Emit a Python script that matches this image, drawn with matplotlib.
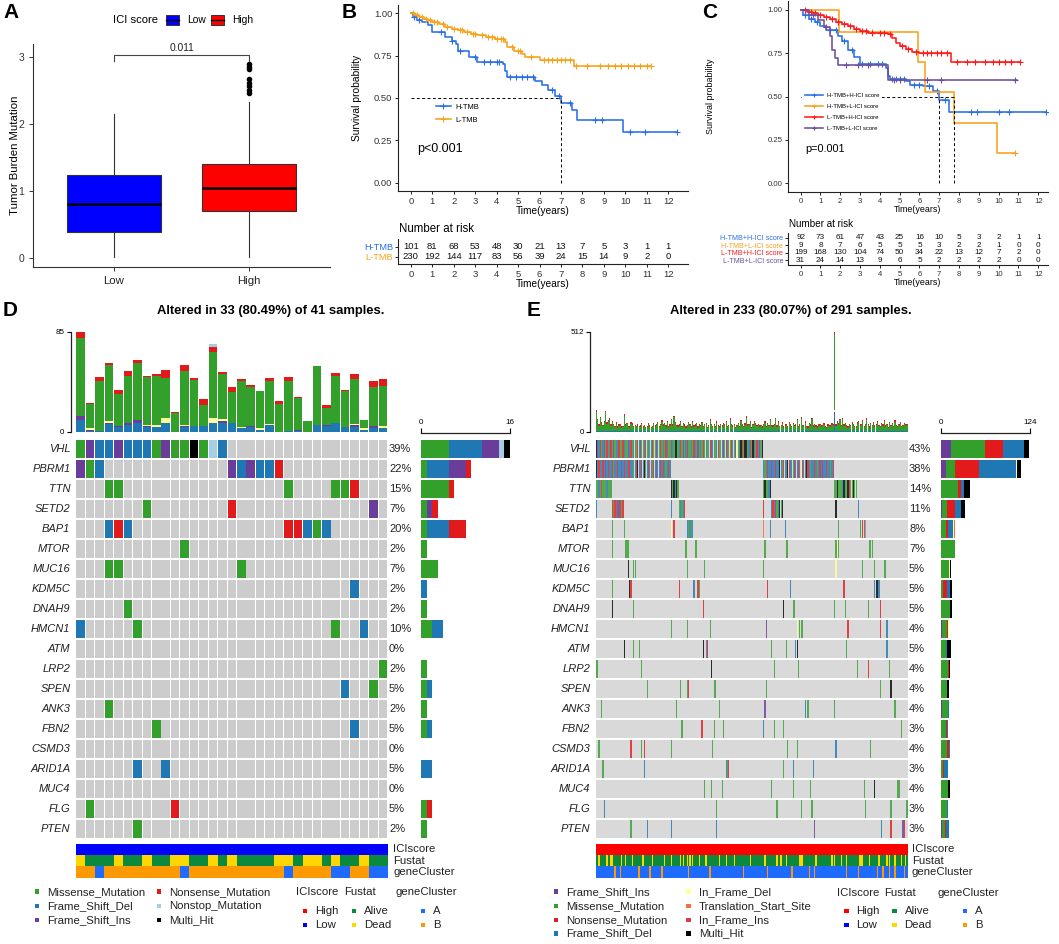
import numpy as np
import matplotlib
matplotlib.use("Agg")
import matplotlib.pyplot as plt
from matplotlib.lines import Line2D
from matplotlib.patches import Rectangle

plt.rcParams['font.family'] = ['Liberation Sans', 'DejaVu Sans']

# ====================== DATA ======================
# ---- Panel A (box plot) ----
A_GROUPS = ["Low", "High"]
A_COLORS = ["#0000FF", "#FF0000"]
A_MED = [0.81, 1.05]
A_Q1 = [0.39, 0.71]
A_Q3 = [1.25, 1.41]
A_WLO = [0.02, 0.02]
A_WHI = [2.15, 2.33]
A_OUT_HIGH = [2.47, 2.52, 2.57, 2.62, 2.67, 2.82, 2.86, 2.90]
A_PVAL = "0.011"

# ---- Panel B (KM) ----
KM_TICKS = list(range(13))
B_NAMES = ["H-TMB", "L-TMB"]
B_COLS = ["#2B6FE6", "#F7A21B"]
B_T_H = [0, 0.1, 0.3, 0.5, 0.8, 1.0, 1.6, 1.9, 2.1, 2.2, 2.7, 3.1, 4.3, 4.4, 4.5, 5.8, 6.1, 6.4, 6.7, 7.0, 7.5, 7.75, 9.9, 12.4]
B_S_H = [1.0, 0.98, 0.96, 0.95, 0.93, 0.89, 0.86, 0.84, 0.82, 0.78, 0.745, 0.715, 0.70, 0.66, 0.625, 0.60, 0.575, 0.545, 0.51, 0.47, 0.43, 0.37, 0.30, 0.30]
B_C_H = [0.15, 0.4, 1.4, 1.9, 2.3, 3.0, 3.4, 3.7, 4.0, 4.1, 4.6, 4.9, 5.2, 5.4, 5.7, 6.6, 6.9, 7.4, 8.6, 8.9, 10.2, 10.9, 12.4]
B_T_L = [0, 0.2, 0.4, 0.6, 0.8, 1.0, 1.3, 1.6, 1.9, 2.2, 2.5, 2.8, 3.1, 3.5, 3.9, 4.4, 4.5, 4.8, 5.2, 5.3, 6.0, 7.6, 11.2]
B_S_L = [1.0, 0.99, 0.98, 0.97, 0.96, 0.95, 0.94, 0.92, 0.91, 0.90, 0.89, 0.88, 0.87, 0.86, 0.85, 0.83, 0.80, 0.78, 0.76, 0.745, 0.725, 0.69, 0.69]
B_C_L = [0.1, 0.3, 0.5, 0.7, 0.9, 1.1, 1.2, 1.5, 1.7, 2.0, 2.3, 2.4, 2.6, 2.9, 3.0, 3.3, 3.6, 3.8, 4.0, 4.2, 4.3,
         4.7, 5.0, 5.1, 5.6, 6.2, 6.4, 6.6, 6.8, 7.0, 7.2, 7.4, 7.7, 8.2, 8.8, 9.2, 9.5, 9.8, 10.1, 10.4, 10.7, 11.0, 11.2]
B_MEDIANS = [7.0]
B_RISK_H = [101, 81, 68, 53, 48, 30, 21, 13, 7, 5, 3, 1, 1]
B_RISK_L = [230, 192, 144, 117, 83, 56, 39, 24, 15, 14, 9, 2, 0]
B_PVAL = "p<0.001"

# ---- Panel C (KM, 4 groups) ----
C_NAMES = ["H-TMB+H-ICI score", "H-TMB+L-ICI score", "L-TMB+H-ICI score", "L-TMB+L-ICI score"]
C_COLS = ["#2B6FE6", "#F7A21B", "#FF1A1A", "#6E4E9A"]
C_T_HH = [0, 0.1, 0.4, 0.7, 1.0, 1.3, 1.9, 2.1, 2.4, 2.7, 3.0, 4.3, 4.4, 4.5, 5.3, 5.5, 6.2, 6.7, 7.0, 7.5, 12.4]
C_S_HH = [1.0, 0.97, 0.95, 0.93, 0.91, 0.885, 0.85, 0.82, 0.77, 0.73, 0.69, 0.665, 0.62, 0.60, 0.59, 0.57, 0.56, 0.535, 0.48, 0.41, 0.41]
C_C_HH = [0.2, 0.5, 0.8, 1.5, 1.8, 2.2, 2.6, 3.1, 3.5, 3.9, 4.1, 4.6, 4.8, 5.0, 5.2, 5.7, 6.0, 6.5, 6.9, 7.3, 8.6, 8.9, 10.0, 10.5, 12.4]
C_T_HL = [0, 1.95, 5.9, 6.3, 7.75, 9.9, 10.8]
C_S_HL = [1.0, 0.875, 0.70, 0.525, 0.35, 0.175, 0.175]
C_C_HL = [3.6, 10.8]
C_T_LH = [0, 0.3, 0.6, 0.9, 1.2, 1.5, 1.8, 2.1, 2.4, 2.7, 3.0, 3.4, 3.8, 4.4, 4.6, 4.8, 5.0, 5.3, 5.6, 6.0, 7.6, 11.1]
C_S_LH = [1.0, 0.99, 0.98, 0.97, 0.96, 0.95, 0.93, 0.92, 0.91, 0.89, 0.88, 0.87, 0.865, 0.86, 0.84, 0.81, 0.79, 0.775, 0.76, 0.75, 0.70, 0.70]
C_C_LH = [0.2, 0.5, 0.7, 1.0, 1.3, 1.6, 1.9, 2.2, 2.5, 2.8, 3.1, 3.3, 3.6, 4.0, 4.2, 4.5, 5.1, 5.4, 5.8, 6.2, 6.4, 6.6,
          6.9, 7.1, 7.4, 7.9, 8.4, 8.8, 9.3, 9.7, 10.0, 10.3, 10.6, 11.1]
C_T_LL = [0, 0.4, 0.9, 1.2, 1.5, 1.6, 1.75, 1.9, 4.4, 10.9]
C_S_LL = [1.0, 0.97, 0.94, 0.90, 0.85, 0.77, 0.725, 0.68, 0.595, 0.595]
C_C_LL = [0.6, 1.3, 2.3, 2.9, 3.4, 4.7, 5.0, 6.4, 7.1, 10.8]
C_MEDIANS = [7.0, 7.75]
C_RISK_HH = [92, 73, 61, 47, 43, 25, 16, 10, 5, 3, 2, 1, 1]
C_RISK_HL = [9, 8, 7, 6, 5, 5, 5, 3, 2, 2, 1, 0, 0]
C_RISK_LH = [199, 168, 130, 104, 74, 50, 34, 22, 13, 12, 7, 2, 0]
C_RISK_LL = [31, 24, 14, 13, 9, 6, 5, 2, 2, 2, 2, 0, 0]
C_PVAL = "p=0.001"

# ---- Oncoplots (D, E) ----
GENES = ["VHL", "PBRM1", "TTN", "SETD2", "BAP1", "MTOR", "MUC16", "KDM5C", "DNAH9", "HMCN1",
         "ATM", "LRP2", "SPEN", "ANK3", "FBN2", "CSMD3", "ARID1A", "MUC4", "FLG", "PTEN"]
TYPE_COL = {'M': '#33A02C', 'D': '#1F78B4', 'I': '#6A3D9A', 'N': '#E31A1C', 'O': '#A6CEE3',
            'X': '#000000', 'F': '#FFFF99', 'T': '#F46D43', 'J': '#D53E4F'}
TYPE_NAME = {'M': 'Missense_Mutation', 'D': 'Frame_Shift_Del', 'I': 'Frame_Shift_Ins',
             'N': 'Nonsense_Mutation', 'O': 'Nonstop_Mutation', 'X': 'Multi_Hit',
             'F': 'In_Frame_Del', 'T': 'Translation_Start_Site', 'J': 'In_Frame_Ins'}

D_TITLE = "Altered in 33 (80.49%) of 41 samples."
D_NCOL = 33
D_PCT = [39, 22, 15, 7, 20, 2, 7, 2, 2, 10, 0, 2, 5, 2, 5, 0, 5, 0, 5, 2]
D_MUT = ["0M 1I 2D 3D 4I 5D 6D 7D 8M 9I 10M 11M 12X 13M 14O 15D",
         "0I 1M 2D 16I 17D 18I 19D 20D 21N",
         "3M 4M 22M 27M 28M 29N",
         "7M 16N 31I",
         "3D 4N 5D 22N 23N 24D 25M 26D",
         "11M",
         "3M 4M 17M",
         "29D",
         "5M",
         "0D 6M 27M 30D",
         "",
         "32M",
         "28D 31M",
         "3M",
         "8M 29D",
         "",
         "6D 9D",
         "",
         "1M 10N",
         "6M"]
D_TOP_DEL = [10, 1, 1, 7, 4, 6, 8, 4, 4, 8, 0, 4, 5, 5, 8, 8, 8, 3, 4, 2, 6, 0, 1, 1, 0, 6, 5, 8, 4, 4, 2, 3, 3]
D_TOP_INS = [4, 1, 0, 1, 1, 2, 2, 1, 0, 0, 0, 1, 0, 0, 0, 1, 0, 0, 1, 0, 0, 0, 0, 1, 0, 0, 1, 0, 0, 2, 0, 2, 0]
D_TOP_IFD = [0, 1, 0, 1, 0, 0, 0, 1, 2, 4, 0, 1, 0, 0, 4, 2, 0, 1, 0, 1, 1, 0, 0, 0, 0, 0, 0, 0, 0, 1, 1, 0, 2]
D_TOP_MIS = [66, 21, 42, 48, 27, 40, 49, 41, 42, 34, 16, 46, 39, 18, 56, 38, 26, 39, 33, 32, 36, 24, 42, 27, 9, 50, 14, 40, 31, 38, 7, 33, 34]
D_TOP_NON = [5, 1, 4, 2, 4, 4, 2, 1, 1, 7, 1, 5, 2, 5, 4, 2, 4, 2, 2, 0, 3, 2, 4, 1, 0, 0, 3, 2, 1, 4, 0, 5, 6]
D_TOP_NST = [0, 0, 0, 0, 0, 0, 0, 0, 0, 0, 0, 0, 0, 0, 3, 0, 0, 0, 0, 0, 0, 0, 0, 0, 0, 0, 0, 0, 0, 0, 0, 0, 0]
D_TOP_MAX = 85
D_RIGHT_MAX = 16
D_ICI = "LLLLLLLLLLLLLLLLLLLLLLLLLLLLLLLLL"
D_FUSTAT = "DAAADAADAADDAADADAAAADDADDADAADAA"
D_CLUSTER = "BBABBBBBBBBABBBBBBBBBBABBBBAABBAA"

E_TITLE = "Altered in 233 (80.07%) of 291 samples."
E_NCOL = 233
E_PCT = [43, 38, 14, 11, 8, 7, 5, 5, 5, 4, 5, 4, 4, 4, 3, 4, 3, 4, 3, 3]
E_MUT = ["0:XIDNMDIMNMDNMIMDDNMMNDMMIDNMDMMNDIMMDNMDMDNMMIDMNMDMNDMMIDMX"
         "XMDNMIMDNMMDMNDMIMDMNMDMMNIDMMDNMMDIMNDMMNDMIFMDXNMXXMDNMXDMNDIMX",
         "0:XDNDDNDIDNDDNMDDNDDIDNDDNNDDMDNXDDNDXMDNDDMNDIDDNDNDMDND "
         "125:DMDNDDIDDNDDXDMNDDXNDDMNDDNDFNDDXNDMDDNDMDNDIDDNDDMDN",
         "0:MMDMNMMMDMMM 56:XMXDXM 125:MXMMDX 178:MMXMMMDXMMXNMMXMM",
         "0:D 12:NMNDNINMN 56:D 62:MDMDN 125:N 131:DNDNMDXMX 179:X 196:D",
         "12:M 21:M 56:F 58:N 68:DMDMD 125:T 130:D 141:D 181:M 197:M 199:NDT",
         "12:M 22:MMM 67:M 74:MM 126:M 142:MM 179:MFM 204:MMM",
         "24:X 28:MM 68:M 81:M 125:M 179:F 199:M 208:M 215:MM",
         "12:M 25:XN 62:N 73:D 76:NM 128:N 145:D 185:N 208:DXXD",
         "12:X 28:M 80:N 140:X 147:MM 178:M 186:M 203:M 212:N",
         "56:M 68:M 85:M 127:I 150:F 152:MMM 188:N 212:N 217:D",
         "21:X 28:M 32:M 80:X 82:DN 131:M 142:M 149:DX 187:M 217:D",
         "0:MM 34:M 86:X 133:M 151:M 195:M 203:N 219:M",
         "38:M 63:M 68:MN 88:MM 127:M 212:M 220:X",
         "4:M 60:M 92:M 126:I 156:D 158:M 178:M 223:M",
         "64:M 79:N 88:M 95:M 125:D 133:M 140:M 228:M",
         "2:M 26:N 34:M 36:N 56:M 87:M 143:M 150:M 179:D 205:M",
         "5:M 36:D 97:DMN 140:M 147:D 162:D",
         "81:M 86:M 94:M 131:M 147:M 160:M 200:M 208:X 225:MM",
         "6:D 90:M 135:M 153:M 161:M 201:M 220:M 232:M",
         "26:M 38:D 56:D 90:D 163:I 213:D 220:N 229:IN"]
E_RIGHT = ["I14 M47 N25 D29 F1 X7", "I7 M13 N33 D52 F1 X5", "M24 N4 D4 X8", "I2 M6 N11 D9 X5",
           "M7 N3 D7 F1 T2", "M19 F1", "M11 F1 X2", "M3 N5 D4 X4", "M12 N1 X2", "I1 M7 N2 F1",
           "M7 D2 X5", "M10 N1 X2", "M8 N1 X2", "I1 M9 D1", "M7 N1 D2", "M9 N2 D1",
           "M3 N1 D6", "M10 X2", "M8 D2", "I2 M3 N2 D4"]
E_RIGHT_MAX = 124
E_TOP_MAX = 512
E_TOP_MIS = [100, 55, 30, 65, 40, 25, 45, 100, 35, 50, 60, 28, 45, 30, 22, 38, 20, 25, 30, 18,
             22, 80, 28, 35, 20, 18, 40, 30, 22, 25, 20, 30, 18, 24, 35, 20, 28, 16, 22, 30,
             25, 18, 20, 35, 22, 28, 40, 20, 30, 50, 25, 35, 22, 45, 18, 28, 55, 30, 70, 40,
             25, 20, 30, 45, 22, 35, 28, 18, 25, 40, 30, 20, 45, 22, 28, 35, 18, 30, 25, 40,
             22, 30, 35, 18, 25, 55, 28, 20, 30, 22, 40, 25, 18, 30, 22, 35, 28, 45, 20, 25,
             60, 30, 22, 28, 18, 25, 35, 20, 50, 28, 22, 30, 70, 25, 30, 40, 18, 28, 45, 30,
             25, 35, 20, 28, 18, 30, 45, 22, 35, 25, 55, 28, 20, 30, 60, 25, 40, 22, 28, 35,
             20, 25, 30, 18, 45, 28, 22, 35, 25, 30, 55, 20, 28, 65, 25, 30, 40, 22, 18, 35,
             28, 60, 25, 30, 22, 18, 28, 35, 20, 25, 30, 22, 18, 28, 25, 20, 35, 30, 384, 28,
             45, 30, 55, 25, 60, 28, 35, 22, 18, 30, 25, 40, 28, 20, 22, 35, 50, 25, 30, 45,
             22, 30, 60, 28, 18, 35, 25, 40, 22, 30, 45, 25, 20, 35, 28, 50, 22, 30, 18, 40,
             25, 35, 22, 45, 28, 20, 30, 40, 18, 25, 35, 28, 30]
E_TOP_NON = ("7586978596 8697586957 6879586978 5968795869 7586978569 8579687958 6978596879 5869758697 "
             "8596879586 9785968795 8697586978 5968795869 7586978596 8795869758 6978596879 5869758697 "
             "8596879586 9758697859 6879586978 5968795869 7586978596 8795869758 5869758697 697")
E_TOP_DEL = ("4536354465 3546453645 5364453645 5364535446 3545364453 6454536354 4635445364 5354463545 "
             "3644536454 5364453645 4536354465 3546453645 5364453645 5364535446 3545364453 6454536354 "
             "4635445364 5354463545 3644536454 5364453645 4536354465 3546453645 4536354465 536")
E_SPIKE_COL = 178
E_SPIKE = {'D': 85, 'I': 17, 'F': 9, 'M': 384, 'N': 17}
E_ICI_RUNS = [("H", 233)]
E_DEAD_COLS = [2, 8, 11, 12, 19, 22, 27, 35, 42, 51, 56, 63, 65, 68, 70, 72, 77, 82, 92, 97, 103, 115,
               126, 135, 138, 142, 152, 153, 154, 164, 176, 178, 183, 187, 197, 198, 199, 204, 211,
               217, 219, 223, 228, 231]
E_CLUSTER_B_COLS = [14, 18, 32, 40, 49, 69, 85, 110, 128, 146, 159, 163, 187, 196, 210, 214, 219, 223, 230]

ANN_COL = {'ICI': {'H': '#FF0000', 'L': '#0000FF'},
           'Fustat': {'A': '#0B8A3E', 'D': '#FFD700'},
           'Cluster': {'A': '#1F6BFF', 'B': '#FF9900'}}

# ====================== FIGURE ======================
W, H = 1059, 944
fig = plt.figure(figsize=(W / 100, H / 100), dpi=100)


def pax(x0, y0, x1, y1):
    ax = fig.add_axes([x0 / W, 1 - y1 / H, (x1 - x0) / W, (y1 - y0) / H])
    ax.patch.set_alpha(0)
    return ax


def style_spines(ax, keep=('left', 'bottom'), color='black', lw=0.8):
    for s in ax.spines:
        if s in keep:
            ax.spines[s].set_color(color)
            ax.spines[s].set_linewidth(lw)
        else:
            ax.spines[s].set_visible(False)


# ---------------- Panel A ----------------
axA = pax(33, 44, 330, 267)
stats = []
for i in range(2):
    stats.append(dict(med=A_MED[i], q1=A_Q1[i], q3=A_Q3[i], whislo=A_WLO[i], whishi=A_WHI[i],
                      fliers=A_OUT_HIGH if i == 1 else []))
bp = axA.bxp(stats, positions=[1, 2], widths=0.7, patch_artist=True, showcaps=False,
             boxprops=dict(edgecolor='#333333', linewidth=0.8),
             medianprops=dict(color='black', linewidth=1.8),
             whiskerprops=dict(color='#333333', linewidth=0.8),
             flierprops=dict(marker='o', markerfacecolor='black', markeredgecolor='black', markersize=3.0))
for p, c in zip(bp['boxes'], A_COLORS):
    p.set_facecolor(c)
axA.set_xlim(0.4, 2.6)
axA.set_ylim(-0.13, 3.2)
axA.set_yticks([0, 1, 2, 3])
axA.set_xticks([1, 2])
axA.set_xticklabels(A_GROUPS)
style_spines(axA, color='#333333')
axA.tick_params(axis='y', labelsize=7.5, labelcolor='#333333', length=3, width=0.7, color='#333333')
axA.tick_params(axis='x', labelsize=8.2, labelcolor='#222222', length=3, width=0.7, color='#333333')
axA.set_ylabel("Tumor Burden Mutation", fontsize=8.2)
axA.yaxis.set_label_coords(-0.044, 0.5)
axA.plot([1, 1, 2, 2], [2.94, 3.04, 3.04, 2.94], color='#444444', lw=0.8, clip_on=False)
axA.text(1.5, 3.07, A_PVAL, ha='center', va='bottom', fontsize=7.4, color='#222222')


# ---------------- KM helper ----------------
def surv_at(t_arr, s_arr, t):
    idx = np.searchsorted(np.asarray(t_arr), t, side='right') - 1
    return np.asarray(s_arr)[idx]


def km_axes(ax, curves, cols, medians, xlim, tick_fs, lab_fs):
    for (t, s, c), col in zip(curves, cols):
        ax.step(t, s, where='post', color=col, lw=1.15)
        ax.plot(c, surv_at(t, s, c), ls='none', marker='+', ms=4, mew=0.8, color=col)
    m_max = max(medians)
    ax.plot([0, m_max], [0.5, 0.5], ls=(0, (3, 2.5)), color='black', lw=0.7)
    for m in medians:
        ax.plot([m, m], [0, 0.5], ls=(0, (3, 2.5)), color='black', lw=0.7)
    ax.set_xlim(*xlim)
    ax.set_ylim(-0.05, 1.05)
    ax.set_xticks(KM_TICKS)
    ax.set_yticks([0, 0.25, 0.5, 0.75, 1.0])
    ax.set_yticklabels(["0.00", "0.25", "0.50", "0.75", "1.00"])
    style_spines(ax, color='#222222')
    ax.tick_params(labelsize=tick_fs, length=2.5, width=0.6, labelcolor='#333333', pad=1.5)
    ax.set_xlabel("Time(years)", fontsize=lab_fs, labelpad=0)


def risk_axes(ax, names, cols, rows, xlim, ylim, name_fs, num_fs, tick_fs, lab_fs):
    for r, vals in enumerate(rows):
        for t, v in zip(KM_TICKS, vals):
            ax.text(t, r, str(v), ha='center', va='center', fontsize=num_fs, color='#111111')
    ax.set_xlim(*xlim)
    ax.set_ylim(*ylim)
    ax.set_xticks(KM_TICKS)
    ax.set_yticks(range(len(names)))
    ax.set_yticklabels(names)
    for lbl, c in zip(ax.get_yticklabels(), cols):
        lbl.set_color(c)
    ax.tick_params(axis='y', labelsize=name_fs, length=2.5, width=0.6, pad=1)
    ax.tick_params(axis='x', labelsize=tick_fs, length=2.5, width=0.6, labelcolor='#333333', pad=1.5)
    style_spines(ax, color='#222222')
    ax.set_xlabel("Time(years)", fontsize=lab_fs, labelpad=0)


# ---------------- Panel B ----------------
axB = pax(398, 5, 688, 191)
km_axes(axB, [(B_T_H, B_S_H, B_C_H), (B_T_L, B_S_L, B_C_L)], B_COLS, B_MEDIANS, (-0.6, 12.92), 6.8, 7.3)
axB.set_ylabel("Survival probability", fontsize=7.4)
axB.yaxis.set_label_coords(-0.124, 0.5)
axB.text(0.28, 0.2, B_PVAL, fontsize=9, va='center')
hB = [Line2D([], [], color=c, lw=1.15, marker='+', ms=4, mew=0.8) for c in B_COLS]
legB = axB.legend(hB, B_NAMES, fontsize=5.4, loc='upper left', bbox_to_anchor=(0.118, 0.49),
                  frameon=True, facecolor='white', edgecolor='none', framealpha=1,
                  handlelength=2.0, handletextpad=0.6, labelspacing=0.75, borderpad=0.5, borderaxespad=0)

axBr = pax(398, 239, 688, 264)
risk_axes(axBr, B_NAMES, B_COLS, [B_RISK_H, B_RISK_L], (-0.6, 12.92), (1.73, -0.77), 6.7, 6.8, 6.8, 7.3)

# ---------------- Panel C ----------------
axC = pax(788, 1.3, 1048, 192)
km_axes(axC, [(C_T_HH, C_S_HH, C_C_HH), (C_T_HL, C_S_HL, C_C_HL), (C_T_LH, C_S_LH, C_C_LH),
              (C_T_LL, C_S_LL, C_C_LL)], C_COLS, C_MEDIANS, (-0.64, 12.49), 5.6, 6.4)
axC.set_ylabel("Survival probability", fontsize=6.4)
axC.yaxis.set_label_coords(-0.28, 0.5)
axC.text(0.22, 0.196, C_PVAL, fontsize=7.8, va='center')
hC = [Line2D([], [], color=c, lw=1.15, marker='+', ms=3.5, mew=0.8) for c in C_COLS]
legC = axC.legend(hC, C_NAMES, fontsize=4.3, loc='upper left', bbox_to_anchor=(0.055, 0.535),
                  frameon=True, facecolor='white', edgecolor='none', framealpha=1,
                  handlelength=3.0, handletextpad=0.7, labelspacing=1.0, borderpad=0.45, borderaxespad=0)

axCr = pax(788, 233, 1048, 265)
risk_axes(axCr, C_NAMES, C_COLS, [C_RISK_HH, C_RISK_HL, C_RISK_LH, C_RISK_LL], (-0.64, 12.49),
          (3.68, -0.68), 5.1, 5.9, 5.6, 6.4)


# ---------------- Oncoplot helper ----------------
ROW_TOP, ROW_H = 439, 20.0


def oncoplot(x0, x1, ncol, cells, gray, cellw, cell_alpha, top_layers, top_max, top_axis_pt,
             right_x0, right_x1, right_counts, right_order, right_max, ann_tracks):
    y_bot = ROW_TOP + ROW_H * len(GENES)
    # matrix
    axm = pax(x0, ROW_TOP, x1, y_bot)
    for r in range(len(GENES)):
        if cellw < 1:
            axm.bar(range(ncol), 0.92, bottom=r - 0.46, width=cellw, color=gray, lw=0)
        else:
            axm.barh(r, ncol, left=-0.5, height=0.92, color=gray, lw=0)
    for r, lst in enumerate(cells):
        if lst:
            xs = [c for c, t in lst]
            cs = [TYPE_COL[t] for c, t in lst]
            axm.bar(xs, 0.92, bottom=r - 0.46, width=min(cellw, 0.9), color=cs, lw=0, alpha=cell_alpha)
    axm.set_xlim(-0.5, ncol - 0.5)
    axm.set_ylim(len(GENES) - 0.5, -0.5)
    axm.axis('off')
    # top bars
    axt = pax(x0, 332, x1, 432)
    bottom = np.zeros(ncol)
    for t, vals in top_layers:
        vals = np.asarray(vals, dtype=float)
        axt.bar(range(ncol), vals, bottom=bottom, width=0.9, color=TYPE_COL[t], lw=0)
        bottom += vals
    axt.set_xlim(-0.5, ncol - 0.5)
    axt.set_ylim(0, top_max)
    style_spines(axt, keep=('left',), color='#222222', lw=0.9)
    axt.spines['left'].set_position(('outward', top_axis_pt))
    axt.set_yticks([0, top_max])
    axt.set_xticks([])
    axt.tick_params(axis='y', labelsize=5.8, length=3, width=0.8, pad=1.5)
    # right bars
    axr = pax(right_x0, ROW_TOP, right_x1, y_bot)
    for r, counts in enumerate(right_counts):
        left = 0
        for t in right_order:
            n = counts.get(t, 0)
            if n:
                axr.barh(r, n, left=left, height=0.86, color=TYPE_COL[t], lw=0)
                left += n
    axr.set_xlim(0, right_max)
    axr.set_ylim(len(GENES) - 0.5, -0.5)
    style_spines(axr, keep=('top',), color='#222222', lw=0.9)
    axr.spines['top'].set_position(('outward', 4.6))
    axr.xaxis.set_ticks_position('top')
    axr.set_xticks([0, right_max])
    axr.set_yticks([])
    axr.tick_params(axis='x', labelsize=5.8, length=3.5, width=0.8, pad=1.5)
    # annotations
    axa = pax(x0, 844, x1, 877.5)
    for k, cols in enumerate(ann_tracks):
        axa.bar(range(ncol), 1.0, bottom=k - 0.5, width=1.0, color=cols, lw=0, antialiased=False)
    axa.set_xlim(-0.5, ncol - 0.5)
    axa.set_ylim(2.5, -0.5)
    axa.axis('off')


def parse_d(s):
    out = []
    for tok in s.split():
        out.append((int(tok[:-1]), tok[-1]))
    return out


def parse_e(s):
    out = []
    for tok in s.split():
        st, codes = tok.split(':')
        for k, t in enumerate(codes):
            out.append((int(st) + k, t))
    return out


def digits(s):
    return [int(c) for c in s.replace(' ', '')]


# ---------------- Panel D ----------------
d_cells = [parse_d(s) for s in D_MUT]
d_right = []
for lst in d_cells:
    cnt = {}
    for c, t in lst:
        cnt[t] = cnt.get(t, 0) + 1
    d_right.append(cnt)
d_ann = [[ANN_COL['ICI'][v] for v in D_ICI],
         [ANN_COL['Fustat'][v] for v in D_FUSTAT],
         [ANN_COL['Cluster'][v] for v in D_CLUSTER]]
oncoplot(76, 387.7, D_NCOL, d_cells, '#CCCCCC', 0.9, 1.0,
         [('D', D_TOP_DEL), ('I', D_TOP_INS), ('F', D_TOP_IFD), ('M', D_TOP_MIS), ('N', D_TOP_NON), ('O', D_TOP_NST)],
         D_TOP_MAX, 3.8, 421, 510, d_right, ['M', 'D', 'I', 'N', 'O', 'X'], D_RIGHT_MAX, d_ann)

# ---------------- Panel E ----------------
e_cells = [parse_e(s) for s in E_MUT]
e_right = []
for s in E_RIGHT:
    cnt = {}
    for tok in s.split():
        cnt[tok[0]] = int(tok[1:])
    e_right.append(cnt)
e_del = np.array(digits(E_TOP_DEL), dtype=float)[:E_NCOL]
e_non = np.array(digits(E_TOP_NON), dtype=float)[:E_NCOL]
e_mis = np.array(E_TOP_MIS, dtype=float)
e_ins = np.zeros(E_NCOL)
e_ifd = np.zeros(E_NCOL)
e_del[E_SPIKE_COL] = E_SPIKE['D']
e_ins[E_SPIKE_COL] = E_SPIKE['I']
e_ifd[E_SPIKE_COL] = E_SPIKE['F']
e_mis[E_SPIKE_COL] = E_SPIKE['M']
e_non[E_SPIKE_COL] = E_SPIKE['N']
e_ici = []
for v, n in E_ICI_RUNS:
    e_ici += [ANN_COL['ICI'][v]] * n
e_fus = [ANN_COL['Fustat']['D'] if i in E_DEAD_COLS else ANN_COL['Fustat']['A'] for i in range(E_NCOL)]
e_clu = [ANN_COL['Cluster']['B'] if i in E_CLUSTER_B_COLS else ANN_COL['Cluster']['A'] for i in range(E_NCOL)]
oncoplot(595.6, 907.7, E_NCOL, e_cells, '#D9D9D9', 1.0, 0.8,
         [('D', e_del), ('I', e_ins), ('F', e_ifd), ('M', e_mis), ('N', e_non)],
         E_TOP_MAX, 3.8, 941, 1030, e_right, ['I', 'M', 'N', 'D', 'F', 'T', 'J', 'X'], E_RIGHT_MAX,
         [e_ici, e_fus, e_clu])

# ---------------- Overlay texts / legends ----------------
ov = pax(0, 0, W, H)
ov.set_xlim(0, W)
ov.set_ylim(H, 0)
ov.axis('off')

for lab, x, y in [("A", 3, 13), ("B", 342, 13), ("C", 702, 13), ("D", 3, 311), ("E", 527, 311)]:
    ov.text(x, y, lab, fontsize=15, fontweight='bold', va='center', ha='left')

# legend A
ov.text(113, 20, "ICI score", fontsize=8.1, va='center', ha='left')
for xk, c, lab in [(166, A_COLORS[0], A_GROUPS[0]), (211, A_COLORS[1], A_GROUPS[1])]:
    ov.add_patch(Rectangle((xk, 15), 13, 10, facecolor=c, edgecolor='#333333', lw=0.7))
    ov.plot([xk, xk + 13], [20, 20], color='black', lw=1.0)
    ov.text(xk + 21, 20, lab, fontsize=7.4, va='center', ha='left')

ov.text(399, 229, "Number at risk", fontsize=8.3, va='center', ha='left')
ov.text(789, 224, "Number at risk", fontsize=7.1, va='center', ha='left')

# oncoplot titles, gene names, percents, annotation labels
ov.text(271, 311, D_TITLE, fontsize=9.4, fontweight='bold', ha='center', va='center')
ov.text(791, 311, E_TITLE, fontsize=9.4, fontweight='bold', ha='center', va='center')
for i, g in enumerate(GENES):
    yc = ROW_TOP + ROW_H * (i + 0.5)
    ov.text(70.5, yc, g, fontsize=8, style='italic', ha='right', va='center', color='#222222')
    ov.text(590.5, yc, g, fontsize=8, style='italic', ha='right', va='center', color='#222222')
    ov.text(389, yc, f"{D_PCT[i]}%", fontsize=8, ha='left', va='center', color='#222222')
    ov.text(909, yc, f"{E_PCT[i]}%", fontsize=8, ha='left', va='center', color='#222222')
for lab, yc in [("ICIscore", 849.5), ("Fustat", 860.5), ("geneCluster", 872)]:
    ov.text(393, yc, lab, fontsize=8.2, ha='left', va='center', color='#222222')
    ov.text(912, yc, lab, fontsize=8.2, ha='left', va='center', color='#222222')


def leg_item(xm, xt, y, color, text):
    ov.add_patch(Rectangle((xm - 2.3, y - 2.3), 4.6, 4.6, facecolor=color, edgecolor='none'))
    ov.text(xt, y, text, fontsize=8.2, ha='left', va='center', color='#222222')


LEG_Y = [891.7, 906, 920, 933.5]
for k, t in enumerate(['M', 'D', 'I']):
    leg_item(37, 47, LEG_Y[k], TYPE_COL[t], TYPE_NAME[t])
for k, t in enumerate(['N', 'O', 'X']):
    leg_item(159, 169, LEG_Y[k], TYPE_COL[t], TYPE_NAME[t])
for k, t in enumerate(['I', 'M', 'N', 'D']):
    leg_item(556, 566, LEG_Y[k], TYPE_COL[t], TYPE_NAME[t])
for k, t in enumerate(['F', 'T', 'J', 'X']):
    leg_item(688.5, 699, LEG_Y[k], TYPE_COL[t], TYPE_NAME[t])


def ann_legend(xs, y0):
    (xh1, xh2, xh3, xm1, xm2, xm3) = xs
    ov.text(xh1, y0, "ICIscore", fontsize=8.2, ha='left', va='center', color='#222222')
    ov.text(xh2, y0, "Fustat", fontsize=8.2, ha='left', va='center', color='#222222')
    ov.text(xh3, y0, "geneCluster", fontsize=8.2, ha='left', va='center', color='#222222')
    leg_item(xm1, xm1 + 10, 911, ANN_COL['ICI']['H'], "High")
    leg_item(xm1, xm1 + 10, 925, ANN_COL['ICI']['L'], "Low")
    leg_item(xm2, xm2 + 10, 911, ANN_COL['Fustat']['A'], "Alive")
    leg_item(xm2, xm2 + 10, 925, ANN_COL['Fustat']['D'], "Dead")
    leg_item(xm3, xm3 + 10, 911, ANN_COL['Cluster']['A'], "A")
    leg_item(xm3, xm3 + 10, 925, ANN_COL['Cluster']['B'], "B")


ann_legend((296, 344, 396, 305, 354, 423), 892)
ann_legend((837, 884, 937, 846.5, 894.6, 965), 892.5)

fig.savefig("out.png", dpi=100)
